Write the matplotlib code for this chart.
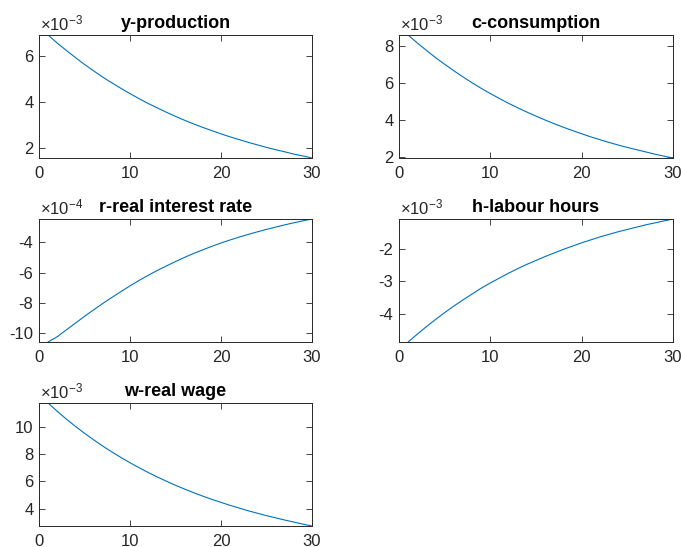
import matplotlib
matplotlib.use("Agg")
import matplotlib.pyplot as plt
from matplotlib.ticker import FuncFormatter

plt.rcParams['font.family'] = ['Liberation Sans', 'DejaVu Sans']
plt.rcParams['mathtext.fontset'] = 'custom'
plt.rcParams['mathtext.rm'] = 'Liberation Sans'
plt.rcParams['mathtext.it'] = 'Liberation Sans'

# impulse responses, periods 1..30
periods = list(range(1, 31))

y_production = [6.90, 6.55, 6.23, 5.92, 5.62, 5.34, 5.07, 4.82, 4.58, 4.35,
                4.13, 3.92, 3.73, 3.54, 3.36, 3.19, 3.03, 2.88, 2.74, 2.60,
                2.47, 2.35, 2.23, 2.12, 2.01, 1.91, 1.82, 1.72, 1.64, 1.55]
c_consumption = [8.61, 8.18, 7.78, 7.39, 7.03, 6.68, 6.35, 6.03, 5.73, 5.45,
                 5.18, 4.92, 4.68, 4.45, 4.23, 4.02, 3.82, 3.63, 3.45, 3.28,
                 3.11, 2.96, 2.81, 2.67, 2.54, 2.42, 2.30, 2.18, 2.07, 1.97]
r_interest = [-10.60, -10.25, -9.80, -9.35, -8.90, -8.47, -8.05, -7.65, -7.26, -6.88,
              -6.52, -6.18, -5.86, -5.56, -5.27, -4.99, -4.73, -4.49, -4.26, -4.04,
              -3.84, -3.65, -3.47, -3.30, -3.14, -2.99, -2.84, -2.70, -2.57, -2.45]
h_hours = [-4.86, -4.62, -4.39, -4.17, -3.96, -3.76, -3.57, -3.39, -3.21, -3.05,
           -2.90, -2.75, -2.61, -2.48, -2.36, -2.24, -2.13, -2.02, -1.92, -1.82,
           -1.73, -1.64, -1.56, -1.48, -1.41, -1.34, -1.27, -1.21, -1.15, -1.09]
w_wage = [11.78, 11.17, 10.60, 10.06, 9.55, 9.07, 8.61, 8.18, 7.77, 7.38,
          7.01, 6.66, 6.33, 6.02, 5.72, 5.44, 5.17, 4.92, 4.68, 4.46,
          4.24, 4.04, 3.84, 3.66, 3.48, 3.32, 3.16, 3.01, 2.86, 2.72]

titles = ["y-production", "c-consumption", "r-real interest rate", "h-labour hours", "w-real wage"]
series = [y_production, c_consumption, r_interest, h_hours, w_wage]
exponents = [-3, -3, -4, -3, -3]
yticks = [[2, 4, 6], [2, 4, 6, 8], [-10, -8, -6, -4], [-4, -3, -2], [4, 6, 8, 10]]
xticks = [0, 10, 20, 30]

# axes rectangles in pixels (left, top, right, bottom), MATLAB subplot layout
W, H = 681, 547
boxes = [(39, 35, 312, 158), (399, 35, 673, 158),
         (39, 219, 312, 342), (399, 219, 673, 342),
         (39, 403, 312, 526)]

fig = plt.figure(figsize=(W / 100, H / 100), dpi=100)
axis_col = '#262626'

for i in range(len(series)):
    l, t, r, b = boxes[i]
    ax = fig.add_axes([l / W, 1 - b / H, (r - l) / W, (b - t) / H])
    scale = 10.0 ** exponents[i]
    vals = [v * scale for v in series[i]]
    ax.plot(periods, vals, color='#0072BD', linewidth=0.8)
    ax.set_xlim(0, 30)
    ax.set_ylim(min(vals), max(vals))
    ax.set_xticks(xticks)
    ax.set_yticks([v * scale for v in yticks[i]])
    ax.yaxis.set_major_formatter(FuncFormatter(lambda v, p, s=scale: f"{round(v / s):d}"))
    ax.tick_params(direction='in', top=True, right=True, length=4, width=0.6,
                   colors=axis_col, labelsize=12)
    ax.tick_params(axis='x', pad=6)
    ax.tick_params(axis='y', pad=4)
    for sp in ax.spines.values():
        sp.set_color(axis_col)
        sp.set_linewidth(0.7)
    ax.set_title(titles[i], fontsize=13, fontweight='bold', pad=5)
    ax.text(0.005, 1.01, r'$\times10^{%d}$' % exponents[i], transform=ax.transAxes,
            fontsize=12, color=axis_col, ha='left', va='bottom')

fig.savefig("out.png", dpi=100)
